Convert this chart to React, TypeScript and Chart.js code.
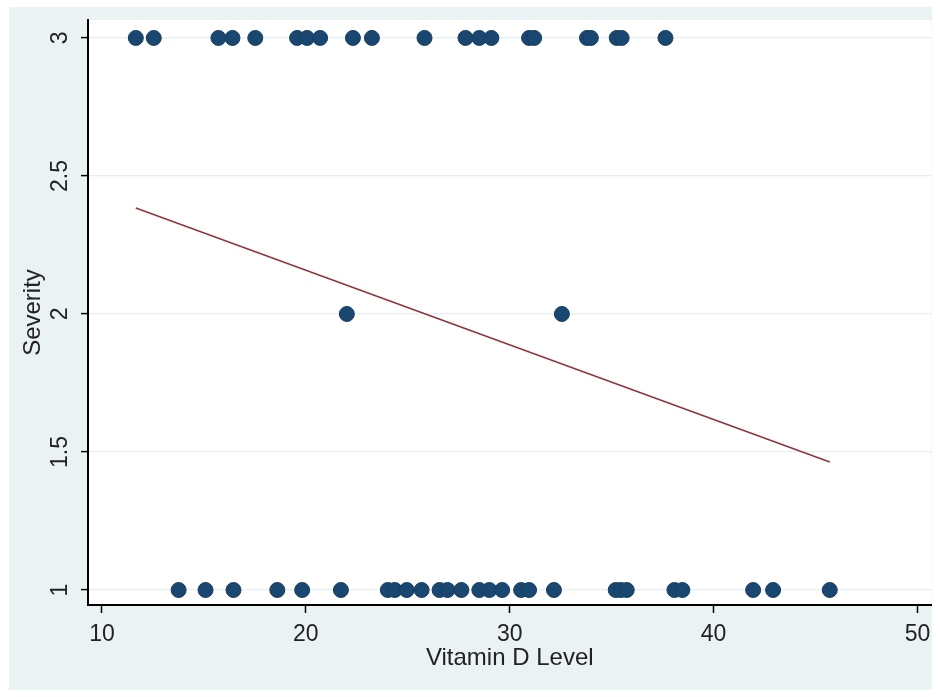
import React, { useEffect, useRef } from "react";
import { Chart, registerables } from "chart.js";

Chart.register(...registerables);

// Vitamin D levels of observations, grouped by severity level
const vitaminDSeverity3 = [
  11.66, 12.54, 15.71, 16.4, 17.52, 19.57, 20.06, 20.7, 22.31, 23.24, 25.82,
  27.83, 28.51, 29.1, 30.95, 31.2, 33.79, 33.98, 35.25, 35.49, 37.64,
];
const vitaminDSeverity2 = [22.01, 32.56];
const vitaminDSeverity1 = [
  13.76, 15.08, 16.45, 18.6, 19.82, 21.72, 24.02, 24.36, 24.95, 25.68, 26.56,
  26.95, 27.63, 28.51, 29.0, 29.63, 30.56, 30.95, 32.17, 35.2, 35.45, 35.74,
  38.08, 38.47, 41.94, 42.92, 45.7,
];

// Fitted line endpoints
const fitX = [11.66, 45.7];
const fitY = [2.384, 1.464];

const xTicks = [10, 20, 30, 40, 50];
const yTicks = [1, 1.5, 2, 2.5, 3];

const FONT = "'Liberation Sans', Arial, sans-serif";

const bgPlugin = {
  id: "stataBg",
  beforeDraw(chart: any) {
    const { ctx, chartArea: a, width, height } = chart;
    ctx.save();
    ctx.fillStyle = "#ffffff";
    ctx.fillRect(0, 0, width, height);
    ctx.fillStyle = "#eaf2f3";
    ctx.fillRect(9, 7, 923, 683);
    ctx.fillStyle = "#ffffff";
    ctx.fillRect(a.left, a.top, a.right - a.left, a.bottom - a.top);
    ctx.restore();
  },
};

export default function App() {
  const ref = useRef<HTMLCanvasElement>(null);

  useEffect(() => {
    if (!ref.current) return;
    const pts = [
      ...vitaminDSeverity3.map((x) => ({ x, y: 3 })),
      ...vitaminDSeverity2.map((x) => ({ x, y: 2 })),
      ...vitaminDSeverity1.map((x) => ({ x, y: 1 })),
    ];
    const fit = fitX.map((x, i) => ({ x, y: fitY[i] }));

    const chart = new Chart(ref.current, {
      type: "scatter",
      data: {
        datasets: [
          {
            label: "Fitted values",
            data: fit,
            showLine: true,
            pointRadius: 0,
            borderColor: "#90353b",
            borderWidth: 1.6,
            order: 2,
          },
          {
            label: "Severity",
            data: pts,
            pointRadius: 7.5,
            pointHoverRadius: 7.5,
            backgroundColor: "#1a476f",
            borderColor: "#173f63",
            borderWidth: 1,
            order: 1,
          },
        ],
      },
      options: {
        responsive: false,
        animation: false,
        layout: { padding: { left: 0, top: 20, right: 8, bottom: 0 } },
        plugins: {
          legend: { display: false },
          tooltip: { enabled: false },
        },
        scales: {
          x: {
            type: "linear",
            min: 9.314,
            max: 50.69,
            afterBuildTicks: (s: any) => {
              s.ticks = xTicks.map((v) => ({ value: v }));
            },
            afterFit: (s: any) => {
              s.height = 92;
            },
            grid: {
              drawOnChartArea: false,
              drawTicks: true,
              tickLength: 8,
              tickColor: "#000",
              tickWidth: 1.5,
            },
            border: { color: "#000", width: 2 },
            ticks: {
              maxRotation: 0,
              minRotation: 0,
              padding: 8,
              color: "#222",
              font: { family: FONT, size: 23 },
              callback: (v: any) => String(v),
            },
            title: {
              display: true,
              text: "Vitamin D Level",
              color: "#222",
              font: { family: FONT, size: 24 },
              padding: { top: 0, bottom: 24 },
            },
          },
          y: {
            type: "linear",
            min: 0.9457,
            max: 3.065,
            afterBuildTicks: (s: any) => {
              s.ticks = yTicks.map((v) => ({ value: v }));
            },
            afterFit: (s: any) => {
              s.width = 88;
            },
            grid: {
              color: "#e6eef0",
              lineWidth: 1.2,
              drawTicks: true,
              tickLength: 7,
              tickColor: "#000",
              tickWidth: 1.5,
            },
            border: { color: "#000", width: 2 },
            ticks: {
              minRotation: 90,
              maxRotation: 90,
              crossAlign: "center",
              padding: 4,
              color: "#222",
              font: { family: FONT, size: 23 },
              callback: (v: any) => String(v),
            },
            title: {
              display: true,
              text: "Severity",
              color: "#222",
              font: { family: FONT, size: 24 },
              padding: { top: 19, bottom: 0 },
            },
          },
        },
      },
      plugins: [bgPlugin],
    } as any);

    return () => chart.destroy();
  }, []);

  return (
    <div
      style={{
        position: "absolute",
        left: 0,
        top: 0,
        width: 940,
        height: 697,
      }}
    >
      <canvas ref={ref} width={940} height={697} style={{ display: "block" }} />
    </div>
  );
}
